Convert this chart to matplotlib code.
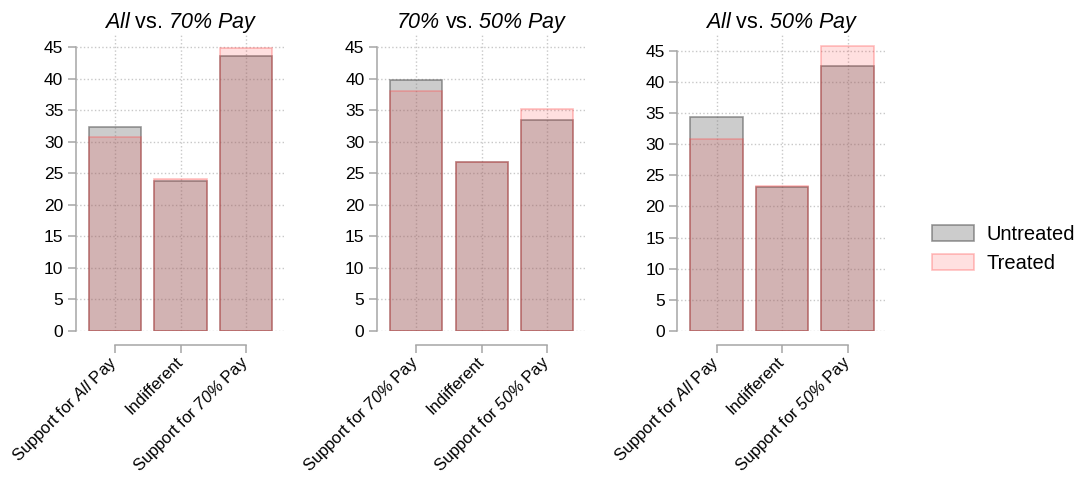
import matplotlib
matplotlib.use("Agg")
import matplotlib.pyplot as plt

plt.rcParams['font.family'] = ['Liberation Sans', 'DejaVu Sans']
plt.rcParams['mathtext.fontset'] = 'custom'
# solo corsivo dentro $...$ (anche per le cifre)
plt.rcParams['mathtext.rm'] = 'Liberation Sans:italic'
plt.rcParams['mathtext.it'] = 'Liberation Sans:italic'

# titoli e categorie per pannello
titles = [r"$\mathit{All}$ vs. $\mathit{70\%\ Pay}$",
          r"$\mathit{70\%}$ vs. $\mathit{50\%\ Pay}$",
          r"$\mathit{All}$ vs. $\mathit{50\%\ Pay}$"]
labels_1 = [r"Support for $\mathit{All}$ Pay", "Indifferent", r"Support for $\mathit{70\%}$ Pay"]
labels_2 = [r"Support for $\mathit{70\%}$ Pay", "Indifferent", r"Support for $\mathit{50\%}$ Pay"]
labels_3 = [r"Support for $\mathit{All}$ Pay", "Indifferent", r"Support for $\mathit{50\%}$ Pay"]

# percentuali
untreated_1 = [32.4, 23.7, 43.6]
treated_1 = [30.7, 24.1, 44.8]
untreated_2 = [39.7, 26.7, 33.4]
treated_2 = [38.1, 26.8, 35.2]
untreated_3 = [34.3, 23.1, 42.5]
treated_3 = [30.8, 23.3, 45.8]

ymax = [46.9, 46.9, 47.5]

panels = [(labels_1, untreated_1, treated_1),
          (labels_2, untreated_2, treated_2),
          (labels_3, untreated_3, treated_3)]

untr_face = (0.5, 0.5, 0.5, 0.4)
untr_edge = (0.35, 0.35, 0.35, 0.6)
tr_face = (1.0, 0.0, 0.0, 0.12)
tr_edge = (1.0, 0.3, 0.3, 0.35)
spine_col = '#a6a6a6'

fig = plt.figure(figsize=(10.82, 4.8), dpi=100)
lefts = [0.070, 0.3484, 0.626]

for i, (labs, u, t) in enumerate(panels):
    ax = fig.add_axes([lefts[i], 0.3104, 0.1937, 0.6167])
    x = list(range(len(labs)))
    bu = ax.bar(x, u, width=0.8, facecolor=untr_face, edgecolor=untr_edge,
                linewidth=1.2, zorder=2, label='Untreated')
    bt = ax.bar(x, t, width=0.8, facecolor=tr_face, edgecolor=tr_edge,
                linewidth=1.2, zorder=3, label='Treated')
    # spine prima dei tick (set_position resetta le etichette)
    for s in ['top', 'right']:
        ax.spines[s].set_visible(False)
    ax.spines['bottom'].set_position(('outward', 10))
    ax.spines['left'].set_bounds(0, 45)
    ax.spines['bottom'].set_bounds(0, 2)
    for s in ['left', 'bottom']:
        ax.spines[s].set_color(spine_col)
        ax.spines[s].set_linewidth(1.1)
    ax.set_xlim(-0.6, 2.6)
    ax.set_ylim(0, ymax[i])
    ax.set_yticks(range(0, 50, 5))
    ax.tick_params(axis='y', labelsize=12.5, length=6, width=1.1,
                   color=spine_col, pad=3)
    ax.tick_params(axis='x', labelsize=12, length=6, width=1.1,
                   color=spine_col, pad=4.5)
    ax.set_xticks(x)
    ax.set_xticklabels(labs, rotation=45, ha='right', va='center',
                       rotation_mode='anchor')
    ax.grid(True, linestyle=':', color='#c8c8c8', linewidth=1, zorder=0)
    ax.set_axisbelow(True)
    ax.set_title(titles[i], fontsize=15.5, pad=5)

fig.legend([bu, bt], ['Untreated', 'Treated'], loc='center left',
           bbox_to_anchor=(0.861, 0.481), frameon=False, fontsize=14.5,
           handlelength=2.1, handleheight=0.85, handletextpad=0.65,
           labelspacing=0.5, borderpad=0, borderaxespad=0)

fig.savefig('out.png', dpi=100)
